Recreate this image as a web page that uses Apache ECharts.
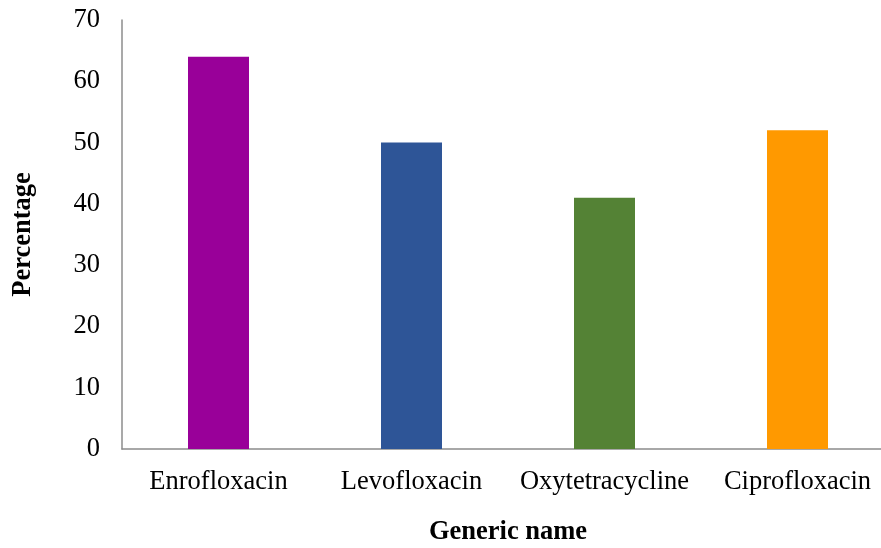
<!DOCTYPE html>
<html>
<head>
<meta charset="utf-8">
<script src="https://cdn.jsdelivr.net/npm/echarts@6/dist/echarts.min.js"></script>
<style>
  html, body { margin: 0; padding: 0; background: #fff; }
  #chart { width: 881px; height: 548px; }
</style>
</head>
<body>
<div id="chart"></div>
<script>
var drugs = ['Enrofloxacin', 'Levofloxacin', 'Oxytetracycline', 'Ciprofloxacin'];
var percentages = [64, 50, 41, 52];
var barColors = ['#990099', '#2E5597', '#548235', '#FF9900'];

var myChart = echarts.init(document.getElementById('chart'));

var font = 'Liberation Serif, Times New Roman, serif';

var option = {
    animation: false,
    grid: {
        left: 122,
        width: 772,
        top: 20,
        bottom: 99,
        outerBoundsMode: 'none'
    },
    xAxis: {
        type: 'category',
        data: drugs,
        name: 'Generic name',
        nameLocation: 'middle',
        nameGap: 70,
        nameTextStyle: {
            fontFamily: font,
            fontWeight: 'bold',
            fontSize: 26.5,
            color: '#000'
        },
        axisLine: { lineStyle: { color: '#8c8c8c', width: 1.5 } },
        axisTick: { show: false },
        axisLabel: {
            interval: 0,
            margin: 20,
            fontFamily: font,
            fontSize: 26.5,
            color: '#000'
        }
    },
    yAxis: {
        type: 'value',
        min: 0,
        max: 70,
        interval: 10,
        name: 'Percentage',
        nameLocation: 'middle',
        nameGap: 85,
        nameTextStyle: {
            fontFamily: font,
            fontWeight: 'bold',
            fontSize: 26.5,
            color: '#000'
        },
        splitLine: { show: false },
        axisLine: { show: true, lineStyle: { color: '#8c8c8c', width: 1.5 } },
        axisTick: { show: false },
        axisLabel: {
            margin: 22,
            fontFamily: font,
            fontSize: 26.5,
            color: '#000'
        }
    },
    series: [{
        name: 'Percentage',
        type: 'bar',
        barWidth: 61,
        data: percentages.map(function (v, i) {
            return { value: v, itemStyle: { color: barColors[i] } };
        })
    }]
};

myChart.setOption(option, true);
</script>
</body>
</html>
